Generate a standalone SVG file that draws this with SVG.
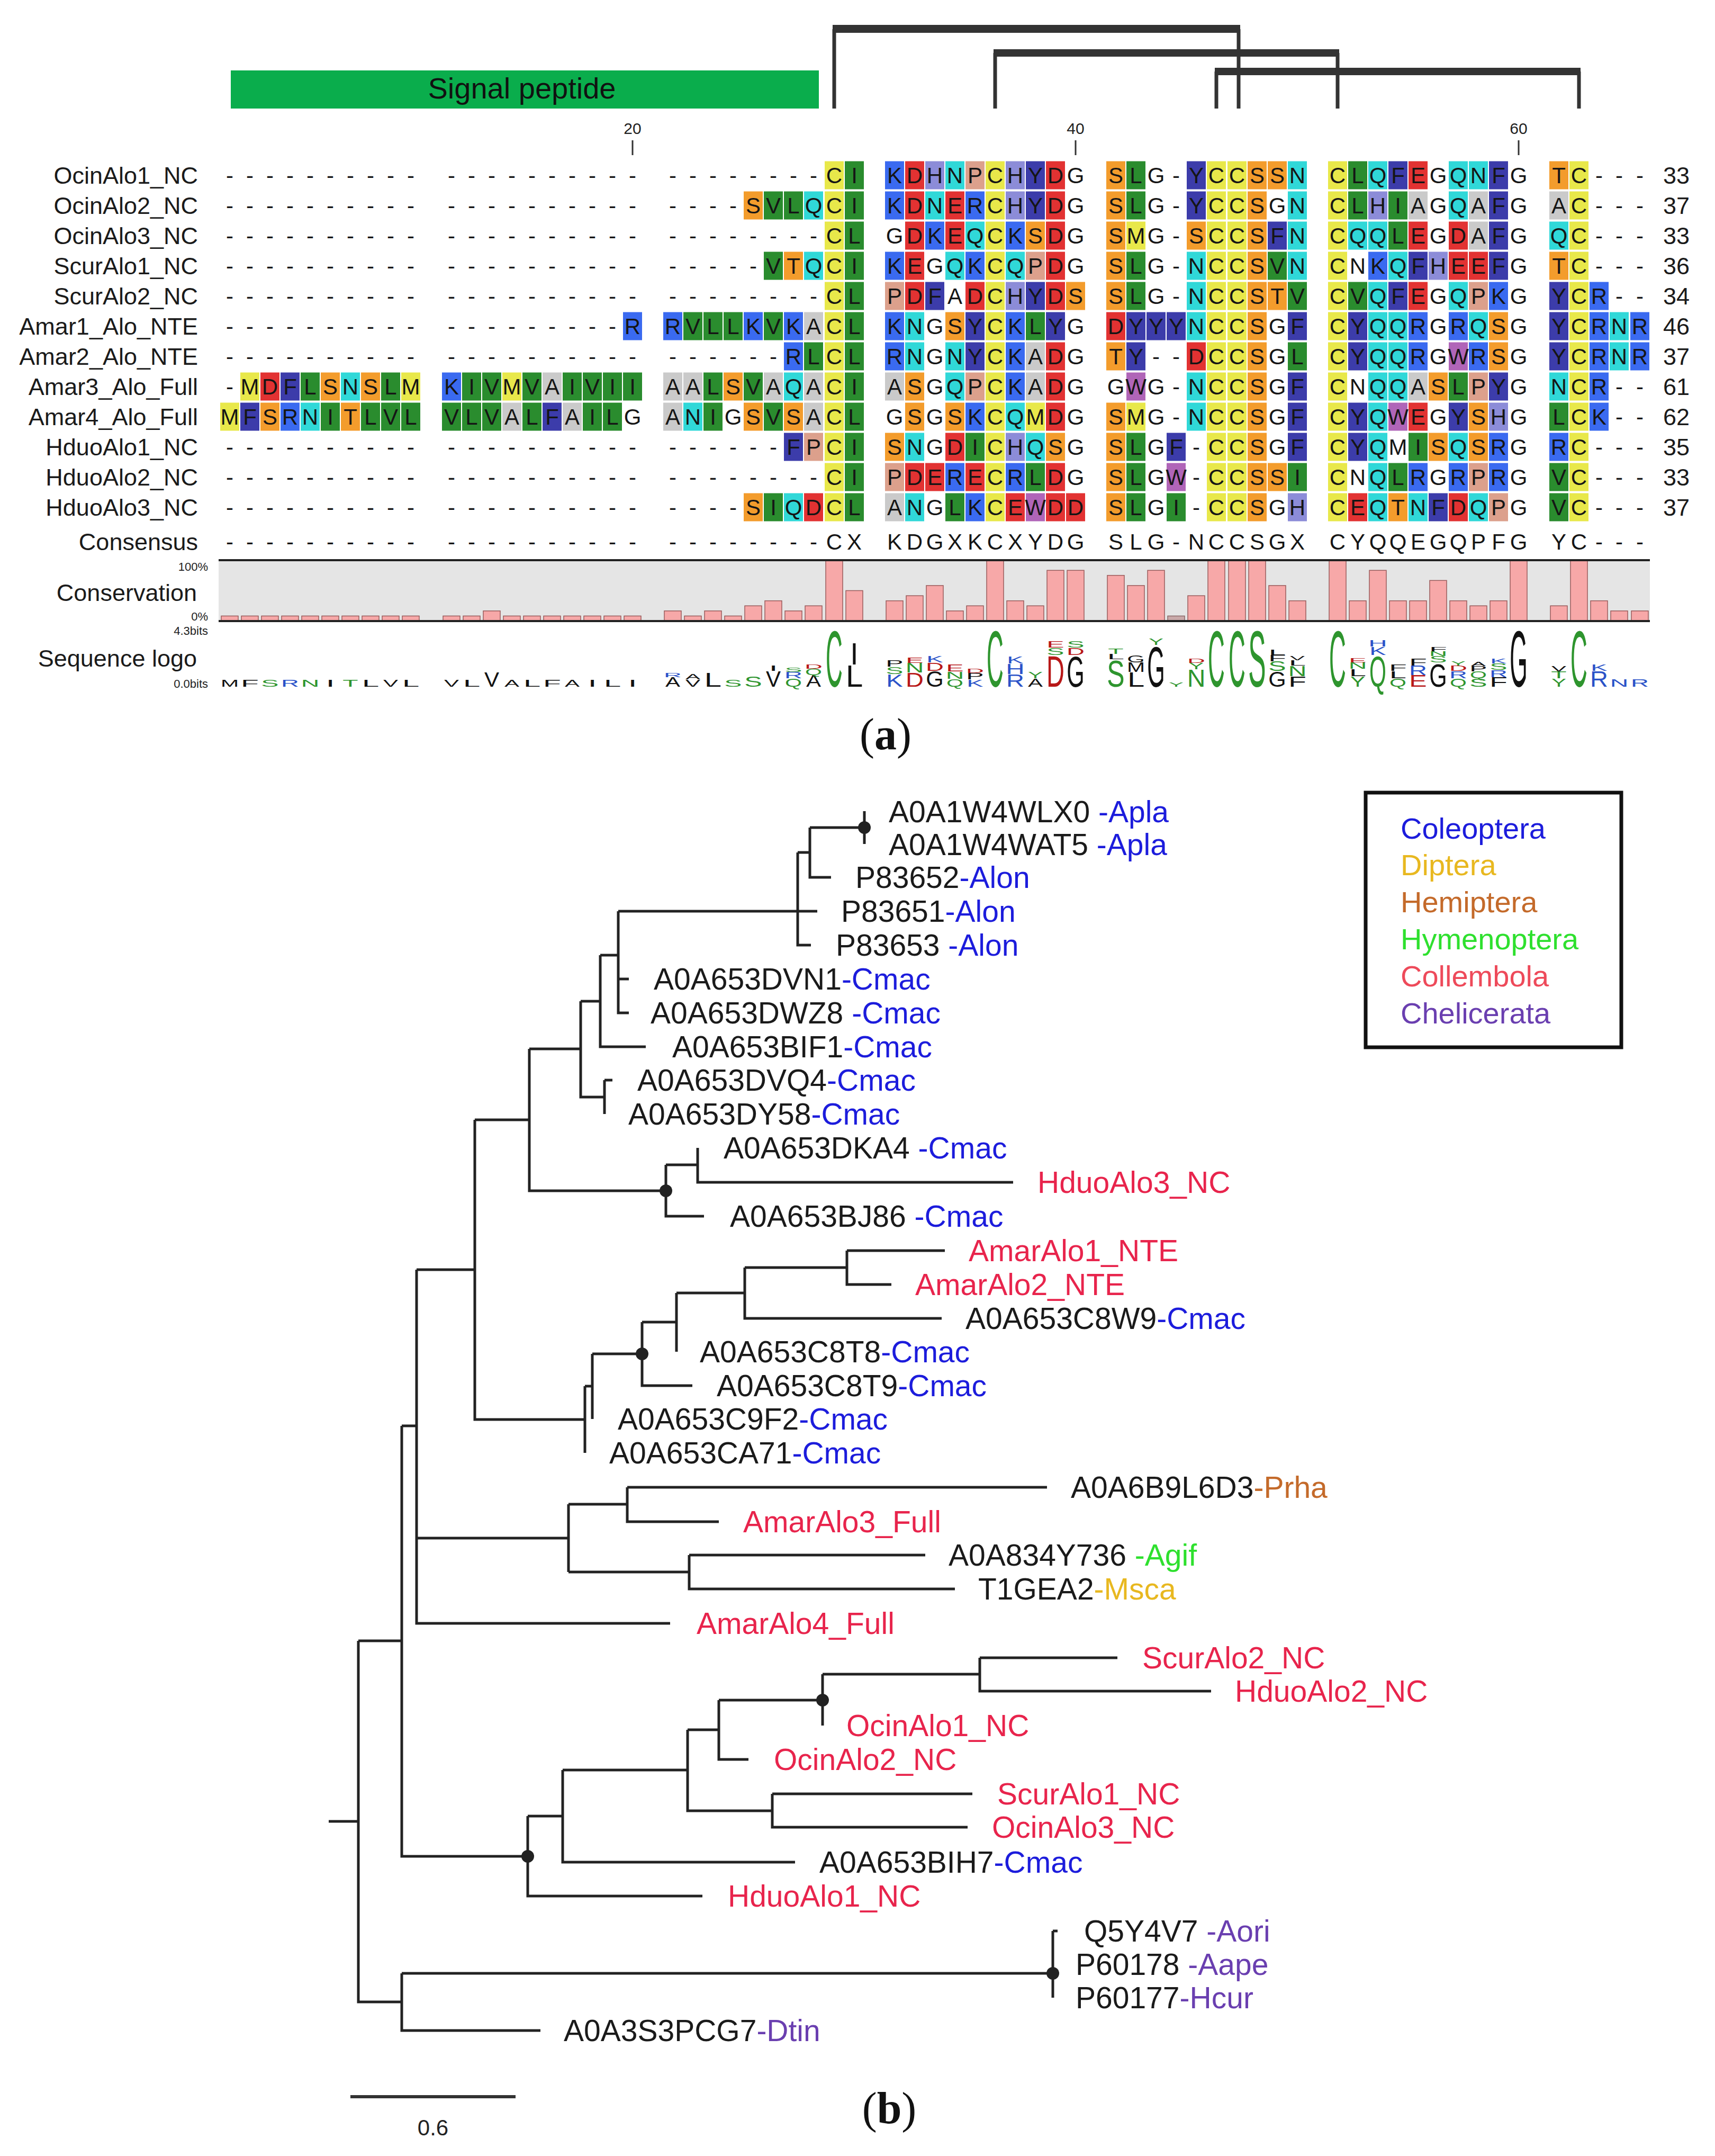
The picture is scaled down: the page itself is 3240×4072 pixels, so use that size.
<svg xmlns="http://www.w3.org/2000/svg" width="3240" height="4072" viewBox="0 0 3240 4072">
<style>
text{font-family:'Liberation Sans',Arial,sans-serif}
.rs{font-size:42px;text-anchor:middle;fill:#151515}
.nm{font-size:45px;text-anchor:end;fill:#1a1a1a}
.nb{font-size:45px;fill:#1a1a1a}
.y{fill:#e8e84a}.g{fill:#2a8c2e}.r{fill:#e23232}.b{fill:#3a6af0}.c{fill:#30d8d8}.o{fill:#f39c2c}.p{fill:#dca08c}.d{fill:#3c3caa}.h{fill:#8c8cd8}.w{fill:#b065b8}.a{fill:#cacaca}
.cb{fill:#f7a8a8;stroke:#9a5c5c;stroke-width:1.5}
.lg{font-size:100px;text-anchor:middle}
.Lg{fill:#2e952e}.Lb{fill:#2a52c8}.Lr{fill:#b81818}.Lk{fill:#111}
.sm{font-size:22px;text-anchor:end;fill:#222}
.tk{font-size:30px;text-anchor:middle;fill:#222}
.bk{fill:#333}
.bv{stroke:#333;stroke-width:7}
.tr{fill:none;stroke:#222;stroke-width:5}
.tl{font-size:57px;fill:#1a1a1a}
.cB{fill:#1c1cdc}.cR{fill:#e8244c}.cO{fill:#c46a2a}.cG{fill:#2ee02e}.cY{fill:#e8b820}.cP{fill:#6a3fb0}
.lgd{font-size:56px}
.pl{font-family:'Liberation Serif','Times New Roman',serif;font-size:84px;text-anchor:middle;fill:#111}
</style>
<defs><rect id="b" width="36" height="53"/></defs>
<rect width="3240" height="4072" fill="#fff"/>

<g id="signal-peptide">
<rect x="436" y="133" width="1111" height="72" fill="#0aad4c"/>
<text x="986" y="186" font-size="56" text-anchor="middle" fill="#111">Signal peptide</text>
</g>
<g id="disulfide-bonds">
<rect class="bk" x="1573" y="47" width="770" height="15"/>
<line class="bv" x1="1576" y1="55" x2="1576" y2="205"/><line class="bv" x1="2340" y1="55" x2="2340" y2="205"/>
<rect class="bk" x="1877" y="93" width="653" height="14"/>
<line class="bv" x1="1880" y1="100" x2="1880" y2="205"/><line class="bv" x1="2527" y1="100" x2="2527" y2="205"/>
<rect class="bk" x="2295" y="128" width="691" height="14"/>
<line class="bv" x1="2298" y1="135" x2="2298" y2="205"/><line class="bv" x1="2983" y1="135" x2="2983" y2="205"/>
</g>
<g id="ruler">
<text class="tk" x="1195" y="253">20</text><text class="tk" x="2032" y="253">40</text><text class="tk" x="2869" y="253">60</text>
<path d="M1195 265V293M2032 265V293M2869 265V293" stroke="#333" stroke-width="3"/>
</g>

<g id="seq-OcinAlo1_NC" transform="translate(0 304.5)">
<use href="#b" x="1558" class="y"/><use href="#b" x="1596" class="g"/><use href="#b" x="1672" class="b"/><use href="#b" x="1710" class="r"/><use href="#b" x="1748" class="h"/><use href="#b" x="1786" class="c"/><use href="#b" x="1824" class="p"/><use href="#b" x="1862" class="y"/><use href="#b" x="1900" class="h"/><use href="#b" x="1938" class="d"/><use href="#b" x="1976" class="r"/><use href="#b" x="2090" class="o"/><use href="#b" x="2128" class="g"/><use href="#b" x="2242" class="d"/><use href="#b" x="2280" class="y"/><use href="#b" x="2319" class="y"/><use href="#b" x="2357" class="o"/><use href="#b" x="2395" class="o"/><use href="#b" x="2433" class="c"/><use href="#b" x="2509" class="y"/><use href="#b" x="2547" class="g"/><use href="#b" x="2585" class="c"/><use href="#b" x="2623" class="d"/><use href="#b" x="2661" class="r"/><use href="#b" x="2737" class="c"/><use href="#b" x="2775" class="c"/><use href="#b" x="2813" class="d"/><use href="#b" x="2927" class="o"/><use href="#b" x="2965" class="y"/>
<text class="nm" x="374" y="42.5">OcinAlo1_NC</text>
<text class="rs" x="434 472 510 548 586 624 662 700 738 776 853 891 929 967 1005 1043 1081 1119 1157 1195 1271 1309 1347 1385 1423 1461 1499 1537 1576 1614 1690 1728 1766 1804 1842 1880 1918 1956 1994 2032 2108 2146 2184 2222 2260 2298 2337 2375 2413 2451 2527 2565 2603 2641 2679 2717 2755 2793 2831 2869 2945 2983 3021 3059 3098" y="41.5">----------------------------CIKDHNPCHYDGSLG-YCCSSNCLQFEGQNFGTC---</text>
<text class="nb" x="3142" y="42.5">33</text>
</g>

<g id="seq-OcinAlo2_NC" transform="translate(0 361.5)">
<use href="#b" x="1405" class="o"/><use href="#b" x="1443" class="g"/><use href="#b" x="1481" class="g"/><use href="#b" x="1519" class="c"/><use href="#b" x="1558" class="y"/><use href="#b" x="1596" class="g"/><use href="#b" x="1672" class="b"/><use href="#b" x="1710" class="r"/><use href="#b" x="1748" class="c"/><use href="#b" x="1786" class="r"/><use href="#b" x="1824" class="b"/><use href="#b" x="1862" class="y"/><use href="#b" x="1900" class="h"/><use href="#b" x="1938" class="d"/><use href="#b" x="1976" class="r"/><use href="#b" x="2090" class="o"/><use href="#b" x="2128" class="g"/><use href="#b" x="2242" class="d"/><use href="#b" x="2280" class="y"/><use href="#b" x="2319" class="y"/><use href="#b" x="2357" class="o"/><use href="#b" x="2433" class="c"/><use href="#b" x="2509" class="y"/><use href="#b" x="2547" class="g"/><use href="#b" x="2585" class="h"/><use href="#b" x="2623" class="g"/><use href="#b" x="2661" class="a"/><use href="#b" x="2737" class="c"/><use href="#b" x="2775" class="a"/><use href="#b" x="2813" class="d"/><use href="#b" x="2927" class="a"/><use href="#b" x="2965" class="y"/>
<text class="nm" x="374" y="42.5">OcinAlo2_NC</text>
<text class="rs" x="434 472 510 548 586 624 662 700 738 776 853 891 929 967 1005 1043 1081 1119 1157 1195 1271 1309 1347 1385 1423 1461 1499 1537 1576 1614 1690 1728 1766 1804 1842 1880 1918 1956 1994 2032 2108 2146 2184 2222 2260 2298 2337 2375 2413 2451 2527 2565 2603 2641 2679 2717 2755 2793 2831 2869 2945 2983 3021 3059 3098" y="41.5">------------------------SVLQCIKDNERCHYDGSLG-YCCSGNCLHIAGQAFGAC---</text>
<text class="nb" x="3142" y="42.5">37</text>
</g>

<g id="seq-OcinAlo3_NC" transform="translate(0 418.5)">
<use href="#b" x="1558" class="y"/><use href="#b" x="1596" class="g"/><use href="#b" x="1710" class="r"/><use href="#b" x="1748" class="b"/><use href="#b" x="1786" class="r"/><use href="#b" x="1824" class="c"/><use href="#b" x="1862" class="y"/><use href="#b" x="1900" class="b"/><use href="#b" x="1938" class="o"/><use href="#b" x="1976" class="r"/><use href="#b" x="2090" class="o"/><use href="#b" x="2128" class="y"/><use href="#b" x="2242" class="o"/><use href="#b" x="2280" class="y"/><use href="#b" x="2319" class="y"/><use href="#b" x="2357" class="o"/><use href="#b" x="2395" class="d"/><use href="#b" x="2433" class="c"/><use href="#b" x="2509" class="y"/><use href="#b" x="2547" class="c"/><use href="#b" x="2585" class="c"/><use href="#b" x="2623" class="g"/><use href="#b" x="2661" class="r"/><use href="#b" x="2737" class="r"/><use href="#b" x="2775" class="a"/><use href="#b" x="2813" class="d"/><use href="#b" x="2927" class="c"/><use href="#b" x="2965" class="y"/>
<text class="nm" x="374" y="42.5">OcinAlo3_NC</text>
<text class="rs" x="434 472 510 548 586 624 662 700 738 776 853 891 929 967 1005 1043 1081 1119 1157 1195 1271 1309 1347 1385 1423 1461 1499 1537 1576 1614 1690 1728 1766 1804 1842 1880 1918 1956 1994 2032 2108 2146 2184 2222 2260 2298 2337 2375 2413 2451 2527 2565 2603 2641 2679 2717 2755 2793 2831 2869 2945 2983 3021 3059 3098" y="41.5">----------------------------CLGDKEQCKSDGSMG-SCCSFNCQQLEGDAFGQC---</text>
<text class="nb" x="3142" y="42.5">33</text>
</g>

<g id="seq-ScurAlo1_NC" transform="translate(0 475.5)">
<use href="#b" x="1443" class="g"/><use href="#b" x="1481" class="o"/><use href="#b" x="1519" class="c"/><use href="#b" x="1558" class="y"/><use href="#b" x="1596" class="g"/><use href="#b" x="1672" class="b"/><use href="#b" x="1710" class="r"/><use href="#b" x="1786" class="c"/><use href="#b" x="1824" class="b"/><use href="#b" x="1862" class="y"/><use href="#b" x="1900" class="c"/><use href="#b" x="1938" class="p"/><use href="#b" x="1976" class="r"/><use href="#b" x="2090" class="o"/><use href="#b" x="2128" class="g"/><use href="#b" x="2242" class="c"/><use href="#b" x="2280" class="y"/><use href="#b" x="2319" class="y"/><use href="#b" x="2357" class="o"/><use href="#b" x="2395" class="g"/><use href="#b" x="2433" class="c"/><use href="#b" x="2509" class="y"/><use href="#b" x="2585" class="b"/><use href="#b" x="2623" class="c"/><use href="#b" x="2661" class="d"/><use href="#b" x="2699" class="h"/><use href="#b" x="2737" class="r"/><use href="#b" x="2775" class="r"/><use href="#b" x="2813" class="d"/><use href="#b" x="2927" class="o"/><use href="#b" x="2965" class="y"/>
<text class="nm" x="374" y="42.5">ScurAlo1_NC</text>
<text class="rs" x="434 472 510 548 586 624 662 700 738 776 853 891 929 967 1005 1043 1081 1119 1157 1195 1271 1309 1347 1385 1423 1461 1499 1537 1576 1614 1690 1728 1766 1804 1842 1880 1918 1956 1994 2032 2108 2146 2184 2222 2260 2298 2337 2375 2413 2451 2527 2565 2603 2641 2679 2717 2755 2793 2831 2869 2945 2983 3021 3059 3098" y="41.5">-------------------------VTQCIKEGQKCQPDGSLG-NCCSVNCNKQFHEEFGTC---</text>
<text class="nb" x="3142" y="42.5">36</text>
</g>

<g id="seq-ScurAlo2_NC" transform="translate(0 532.5)">
<use href="#b" x="1558" class="y"/><use href="#b" x="1596" class="g"/><use href="#b" x="1672" class="p"/><use href="#b" x="1710" class="r"/><use href="#b" x="1748" class="d"/><use href="#b" x="1824" class="r"/><use href="#b" x="1862" class="y"/><use href="#b" x="1900" class="h"/><use href="#b" x="1938" class="d"/><use href="#b" x="1976" class="r"/><use href="#b" x="2014" class="o"/><use href="#b" x="2090" class="o"/><use href="#b" x="2128" class="g"/><use href="#b" x="2242" class="c"/><use href="#b" x="2280" class="y"/><use href="#b" x="2319" class="y"/><use href="#b" x="2357" class="o"/><use href="#b" x="2395" class="o"/><use href="#b" x="2433" class="g"/><use href="#b" x="2509" class="y"/><use href="#b" x="2547" class="g"/><use href="#b" x="2585" class="c"/><use href="#b" x="2623" class="d"/><use href="#b" x="2661" class="r"/><use href="#b" x="2737" class="c"/><use href="#b" x="2775" class="p"/><use href="#b" x="2813" class="b"/><use href="#b" x="2927" class="d"/><use href="#b" x="2965" class="y"/><use href="#b" x="3003" class="b"/>
<text class="nm" x="374" y="42.5">ScurAlo2_NC</text>
<text class="rs" x="434 472 510 548 586 624 662 700 738 776 853 891 929 967 1005 1043 1081 1119 1157 1195 1271 1309 1347 1385 1423 1461 1499 1537 1576 1614 1690 1728 1766 1804 1842 1880 1918 1956 1994 2032 2108 2146 2184 2222 2260 2298 2337 2375 2413 2451 2527 2565 2603 2641 2679 2717 2755 2793 2831 2869 2945 2983 3021 3059 3098" y="41.5">----------------------------CLPDFADCHYDSSLG-NCCSTVCVQFEGQPKGYCR--</text>
<text class="nb" x="3142" y="42.5">34</text>
</g>

<g id="seq-Amar1_Alo_NTE" transform="translate(0 589.5)">
<use href="#b" x="1177" class="b"/><use href="#b" x="1253" class="b"/><use href="#b" x="1291" class="g"/><use href="#b" x="1329" class="g"/><use href="#b" x="1367" class="g"/><use href="#b" x="1405" class="b"/><use href="#b" x="1443" class="g"/><use href="#b" x="1481" class="b"/><use href="#b" x="1519" class="a"/><use href="#b" x="1558" class="y"/><use href="#b" x="1596" class="g"/><use href="#b" x="1672" class="b"/><use href="#b" x="1710" class="c"/><use href="#b" x="1786" class="o"/><use href="#b" x="1824" class="d"/><use href="#b" x="1862" class="y"/><use href="#b" x="1900" class="b"/><use href="#b" x="1938" class="g"/><use href="#b" x="1976" class="d"/><use href="#b" x="2090" class="r"/><use href="#b" x="2128" class="d"/><use href="#b" x="2166" class="d"/><use href="#b" x="2204" class="d"/><use href="#b" x="2242" class="c"/><use href="#b" x="2280" class="y"/><use href="#b" x="2319" class="y"/><use href="#b" x="2357" class="o"/><use href="#b" x="2433" class="d"/><use href="#b" x="2509" class="y"/><use href="#b" x="2547" class="d"/><use href="#b" x="2585" class="c"/><use href="#b" x="2623" class="c"/><use href="#b" x="2661" class="b"/><use href="#b" x="2737" class="b"/><use href="#b" x="2775" class="c"/><use href="#b" x="2813" class="o"/><use href="#b" x="2927" class="d"/><use href="#b" x="2965" class="y"/><use href="#b" x="3003" class="b"/><use href="#b" x="3041" class="c"/><use href="#b" x="3080" class="b"/>
<text class="nm" x="374" y="42.5">Amar1_Alo_NTE</text>
<text class="rs" x="434 472 510 548 586 624 662 700 738 776 853 891 929 967 1005 1043 1081 1119 1157 1195 1271 1309 1347 1385 1423 1461 1499 1537 1576 1614 1690 1728 1766 1804 1842 1880 1918 1956 1994 2032 2108 2146 2184 2222 2260 2298 2337 2375 2413 2451 2527 2565 2603 2641 2679 2717 2755 2793 2831 2869 2945 2983 3021 3059 3098" y="41.5">-------------------RRVLLKVKACLKNGSYCKLYGDYYYNCCSGFCYQQRGRQSGYCRNR</text>
<text class="nb" x="3142" y="42.5">46</text>
</g>

<g id="seq-Amar2_Alo_NTE" transform="translate(0 646.5)">
<use href="#b" x="1481" class="b"/><use href="#b" x="1519" class="g"/><use href="#b" x="1558" class="y"/><use href="#b" x="1596" class="g"/><use href="#b" x="1672" class="b"/><use href="#b" x="1710" class="c"/><use href="#b" x="1786" class="c"/><use href="#b" x="1824" class="d"/><use href="#b" x="1862" class="y"/><use href="#b" x="1900" class="b"/><use href="#b" x="1938" class="a"/><use href="#b" x="1976" class="r"/><use href="#b" x="2090" class="o"/><use href="#b" x="2128" class="d"/><use href="#b" x="2242" class="r"/><use href="#b" x="2280" class="y"/><use href="#b" x="2319" class="y"/><use href="#b" x="2357" class="o"/><use href="#b" x="2433" class="g"/><use href="#b" x="2509" class="y"/><use href="#b" x="2547" class="d"/><use href="#b" x="2585" class="c"/><use href="#b" x="2623" class="c"/><use href="#b" x="2661" class="b"/><use href="#b" x="2737" class="w"/><use href="#b" x="2775" class="b"/><use href="#b" x="2813" class="o"/><use href="#b" x="2927" class="d"/><use href="#b" x="2965" class="y"/><use href="#b" x="3003" class="b"/><use href="#b" x="3041" class="c"/><use href="#b" x="3080" class="b"/>
<text class="nm" x="374" y="42.5">Amar2_Alo_NTE</text>
<text class="rs" x="434 472 510 548 586 624 662 700 738 776 853 891 929 967 1005 1043 1081 1119 1157 1195 1271 1309 1347 1385 1423 1461 1499 1537 1576 1614 1690 1728 1766 1804 1842 1880 1918 1956 1994 2032 2108 2146 2184 2222 2260 2298 2337 2375 2413 2451 2527 2565 2603 2641 2679 2717 2755 2793 2831 2869 2945 2983 3021 3059 3098" y="41.5">--------------------------RLCLRNGNYCKADGTY--DCCSGLCYQQRGWRSGYCRNR</text>
<text class="nb" x="3142" y="42.5">37</text>
</g>

<g id="seq-Amar3_Alo_Full" transform="translate(0 703.5)">
<use href="#b" x="454" class="y"/><use href="#b" x="492" class="r"/><use href="#b" x="530" class="d"/><use href="#b" x="568" class="g"/><use href="#b" x="606" class="o"/><use href="#b" x="644" class="c"/><use href="#b" x="682" class="o"/><use href="#b" x="720" class="g"/><use href="#b" x="758" class="y"/><use href="#b" x="835" class="b"/><use href="#b" x="873" class="g"/><use href="#b" x="911" class="g"/><use href="#b" x="949" class="y"/><use href="#b" x="987" class="g"/><use href="#b" x="1025" class="a"/><use href="#b" x="1063" class="g"/><use href="#b" x="1101" class="g"/><use href="#b" x="1139" class="g"/><use href="#b" x="1177" class="g"/><use href="#b" x="1253" class="a"/><use href="#b" x="1291" class="a"/><use href="#b" x="1329" class="g"/><use href="#b" x="1367" class="o"/><use href="#b" x="1405" class="g"/><use href="#b" x="1443" class="a"/><use href="#b" x="1481" class="c"/><use href="#b" x="1519" class="a"/><use href="#b" x="1558" class="y"/><use href="#b" x="1596" class="g"/><use href="#b" x="1672" class="a"/><use href="#b" x="1710" class="o"/><use href="#b" x="1786" class="c"/><use href="#b" x="1824" class="p"/><use href="#b" x="1862" class="y"/><use href="#b" x="1900" class="b"/><use href="#b" x="1938" class="a"/><use href="#b" x="1976" class="r"/><use href="#b" x="2128" class="w"/><use href="#b" x="2242" class="c"/><use href="#b" x="2280" class="y"/><use href="#b" x="2319" class="y"/><use href="#b" x="2357" class="o"/><use href="#b" x="2433" class="d"/><use href="#b" x="2509" class="y"/><use href="#b" x="2585" class="c"/><use href="#b" x="2623" class="c"/><use href="#b" x="2661" class="a"/><use href="#b" x="2699" class="o"/><use href="#b" x="2737" class="g"/><use href="#b" x="2775" class="p"/><use href="#b" x="2813" class="d"/><use href="#b" x="2927" class="c"/><use href="#b" x="2965" class="y"/><use href="#b" x="3003" class="b"/>
<text class="nm" x="374" y="42.5">Amar3_Alo_Full</text>
<text class="rs" x="434 472 510 548 586 624 662 700 738 776 853 891 929 967 1005 1043 1081 1119 1157 1195 1271 1309 1347 1385 1423 1461 1499 1537 1576 1614 1690 1728 1766 1804 1842 1880 1918 1956 1994 2032 2108 2146 2184 2222 2260 2298 2337 2375 2413 2451 2527 2565 2603 2641 2679 2717 2755 2793 2831 2869 2945 2983 3021 3059 3098" y="41.5">-MDFLSNSLMKIVMVAIVIIAALSVAQACIASGQPCKADGGWG-NCCSGFCNQQASLPYGNCR--</text>
<text class="nb" x="3142" y="42.5">61</text>
</g>

<g id="seq-Amar4_Alo_Full" transform="translate(0 760.5)">
<use href="#b" x="416" class="y"/><use href="#b" x="454" class="d"/><use href="#b" x="492" class="o"/><use href="#b" x="530" class="b"/><use href="#b" x="568" class="c"/><use href="#b" x="606" class="g"/><use href="#b" x="644" class="o"/><use href="#b" x="682" class="g"/><use href="#b" x="720" class="g"/><use href="#b" x="758" class="g"/><use href="#b" x="835" class="g"/><use href="#b" x="873" class="g"/><use href="#b" x="911" class="g"/><use href="#b" x="949" class="a"/><use href="#b" x="987" class="g"/><use href="#b" x="1025" class="d"/><use href="#b" x="1063" class="a"/><use href="#b" x="1101" class="g"/><use href="#b" x="1139" class="g"/><use href="#b" x="1253" class="a"/><use href="#b" x="1291" class="c"/><use href="#b" x="1329" class="g"/><use href="#b" x="1405" class="o"/><use href="#b" x="1443" class="g"/><use href="#b" x="1481" class="o"/><use href="#b" x="1519" class="a"/><use href="#b" x="1558" class="y"/><use href="#b" x="1596" class="g"/><use href="#b" x="1710" class="o"/><use href="#b" x="1786" class="o"/><use href="#b" x="1824" class="b"/><use href="#b" x="1862" class="y"/><use href="#b" x="1900" class="c"/><use href="#b" x="1938" class="y"/><use href="#b" x="1976" class="r"/><use href="#b" x="2090" class="o"/><use href="#b" x="2128" class="y"/><use href="#b" x="2242" class="c"/><use href="#b" x="2280" class="y"/><use href="#b" x="2319" class="y"/><use href="#b" x="2357" class="o"/><use href="#b" x="2433" class="d"/><use href="#b" x="2509" class="y"/><use href="#b" x="2547" class="d"/><use href="#b" x="2585" class="c"/><use href="#b" x="2623" class="w"/><use href="#b" x="2661" class="r"/><use href="#b" x="2737" class="d"/><use href="#b" x="2775" class="o"/><use href="#b" x="2813" class="h"/><use href="#b" x="2927" class="g"/><use href="#b" x="2965" class="y"/><use href="#b" x="3003" class="b"/>
<text class="nm" x="374" y="42.5">Amar4_Alo_Full</text>
<text class="rs" x="434 472 510 548 586 624 662 700 738 776 853 891 929 967 1005 1043 1081 1119 1157 1195 1271 1309 1347 1385 1423 1461 1499 1537 1576 1614 1690 1728 1766 1804 1842 1880 1918 1956 1994 2032 2108 2146 2184 2222 2260 2298 2337 2375 2413 2451 2527 2565 2603 2641 2679 2717 2755 2793 2831 2869 2945 2983 3021 3059 3098" y="41.5">MFSRNITLVLVLVALFAILGANIGSVSACLGSGSKCQMDGSMG-NCCSGFCYQWEGYSHGLCK--</text>
<text class="nb" x="3142" y="42.5">62</text>
</g>

<g id="seq-HduoAlo1_NC" transform="translate(0 817.5)">
<use href="#b" x="1481" class="d"/><use href="#b" x="1519" class="p"/><use href="#b" x="1558" class="y"/><use href="#b" x="1596" class="g"/><use href="#b" x="1672" class="o"/><use href="#b" x="1710" class="c"/><use href="#b" x="1786" class="r"/><use href="#b" x="1824" class="g"/><use href="#b" x="1862" class="y"/><use href="#b" x="1900" class="h"/><use href="#b" x="1938" class="c"/><use href="#b" x="1976" class="o"/><use href="#b" x="2090" class="o"/><use href="#b" x="2128" class="g"/><use href="#b" x="2204" class="d"/><use href="#b" x="2280" class="y"/><use href="#b" x="2319" class="y"/><use href="#b" x="2357" class="o"/><use href="#b" x="2433" class="d"/><use href="#b" x="2509" class="y"/><use href="#b" x="2547" class="d"/><use href="#b" x="2585" class="c"/><use href="#b" x="2661" class="g"/><use href="#b" x="2699" class="o"/><use href="#b" x="2737" class="c"/><use href="#b" x="2775" class="o"/><use href="#b" x="2813" class="b"/><use href="#b" x="2927" class="b"/><use href="#b" x="2965" class="y"/>
<text class="nm" x="374" y="42.5">HduoAlo1_NC</text>
<text class="rs" x="434 472 510 548 586 624 662 700 738 776 853 891 929 967 1005 1043 1081 1119 1157 1195 1271 1309 1347 1385 1423 1461 1499 1537 1576 1614 1690 1728 1766 1804 1842 1880 1918 1956 1994 2032 2108 2146 2184 2222 2260 2298 2337 2375 2413 2451 2527 2565 2603 2641 2679 2717 2755 2793 2831 2869 2945 2983 3021 3059 3098" y="41.5">--------------------------FPCISNGDICHQSGSLGF-CCSGFCYQMISQSRGRC---</text>
<text class="nb" x="3142" y="42.5">35</text>
</g>

<g id="seq-HduoAlo2_NC" transform="translate(0 874.5)">
<use href="#b" x="1558" class="y"/><use href="#b" x="1596" class="g"/><use href="#b" x="1672" class="p"/><use href="#b" x="1710" class="r"/><use href="#b" x="1748" class="r"/><use href="#b" x="1786" class="b"/><use href="#b" x="1824" class="r"/><use href="#b" x="1862" class="y"/><use href="#b" x="1900" class="b"/><use href="#b" x="1938" class="g"/><use href="#b" x="1976" class="r"/><use href="#b" x="2090" class="o"/><use href="#b" x="2128" class="g"/><use href="#b" x="2204" class="w"/><use href="#b" x="2280" class="y"/><use href="#b" x="2319" class="y"/><use href="#b" x="2357" class="o"/><use href="#b" x="2395" class="o"/><use href="#b" x="2433" class="g"/><use href="#b" x="2509" class="y"/><use href="#b" x="2585" class="c"/><use href="#b" x="2623" class="g"/><use href="#b" x="2661" class="b"/><use href="#b" x="2737" class="b"/><use href="#b" x="2775" class="p"/><use href="#b" x="2813" class="b"/><use href="#b" x="2927" class="g"/><use href="#b" x="2965" class="y"/>
<text class="nm" x="374" y="42.5">HduoAlo2_NC</text>
<text class="rs" x="434 472 510 548 586 624 662 700 738 776 853 891 929 967 1005 1043 1081 1119 1157 1195 1271 1309 1347 1385 1423 1461 1499 1537 1576 1614 1690 1728 1766 1804 1842 1880 1918 1956 1994 2032 2108 2146 2184 2222 2260 2298 2337 2375 2413 2451 2527 2565 2603 2641 2679 2717 2755 2793 2831 2869 2945 2983 3021 3059 3098" y="41.5">----------------------------CIPDERECRLDGSLGW-CCSSICNQLRGRPRGVC---</text>
<text class="nb" x="3142" y="42.5">33</text>
</g>

<g id="seq-HduoAlo3_NC" transform="translate(0 931.5)">
<use href="#b" x="1405" class="o"/><use href="#b" x="1443" class="g"/><use href="#b" x="1481" class="c"/><use href="#b" x="1519" class="r"/><use href="#b" x="1558" class="y"/><use href="#b" x="1596" class="g"/><use href="#b" x="1672" class="a"/><use href="#b" x="1710" class="c"/><use href="#b" x="1786" class="g"/><use href="#b" x="1824" class="b"/><use href="#b" x="1862" class="y"/><use href="#b" x="1900" class="r"/><use href="#b" x="1938" class="w"/><use href="#b" x="1976" class="r"/><use href="#b" x="2014" class="r"/><use href="#b" x="2090" class="o"/><use href="#b" x="2128" class="g"/><use href="#b" x="2204" class="g"/><use href="#b" x="2280" class="y"/><use href="#b" x="2319" class="y"/><use href="#b" x="2357" class="o"/><use href="#b" x="2433" class="h"/><use href="#b" x="2509" class="y"/><use href="#b" x="2547" class="r"/><use href="#b" x="2585" class="c"/><use href="#b" x="2623" class="o"/><use href="#b" x="2661" class="c"/><use href="#b" x="2699" class="d"/><use href="#b" x="2737" class="r"/><use href="#b" x="2775" class="c"/><use href="#b" x="2813" class="p"/><use href="#b" x="2927" class="g"/><use href="#b" x="2965" class="y"/>
<text class="nm" x="374" y="42.5">HduoAlo3_NC</text>
<text class="rs" x="434 472 510 548 586 624 662 700 738 776 853 891 929 967 1005 1043 1081 1119 1157 1195 1271 1309 1347 1385 1423 1461 1499 1537 1576 1614 1690 1728 1766 1804 1842 1880 1918 1956 1994 2032 2108 2146 2184 2222 2260 2298 2337 2375 2413 2451 2527 2565 2603 2641 2679 2717 2755 2793 2831 2869 2945 2983 3021 3059 3098" y="41.5">------------------------SIQDCLANGLKCEWDDSLGI-CCSGHCEQTNFDQPGVC---</text>
<text class="nb" x="3142" y="42.5">37</text>
</g>

<g id="consensus">
<text class="nm" x="374" y="1039">Consensus</text>
<text class="rs" x="434 472 510 548 586 624 662 700 738 776 853 891 929 967 1005 1043 1081 1119 1157 1195 1271 1309 1347 1385 1423 1461 1499 1537 1576 1614 1690 1728 1766 1804 1842 1880 1918 1956 1994 2032 2108 2146 2184 2222 2260 2298 2337 2375 2413 2451 2527 2565 2603 2641 2679 2717 2755 2793 2831 2869 2945 2983 3021 3059 3098" y="1038">----------------------------CXKDGXKCXYDGSLG-NCCSGXCYQQEGQPFGYC---</text>
</g>

<g id="conservation">
<rect x="413" y="1058" width="2704" height="115" fill="#e5e5e5"/>
<text class="nm" x="372" y="1135">Conservation</text>
<text class="sm" x="393" y="1078">100%</text>
<text class="sm" x="393" y="1172">0%</text>
<rect class="cb" x="418" y="1163.4" width="32" height="9.6"/><rect class="cb" x="456" y="1163.4" width="32" height="9.6"/><rect class="cb" x="494" y="1163.4" width="32" height="9.6"/><rect class="cb" x="532" y="1163.4" width="32" height="9.6"/><rect class="cb" x="570" y="1163.4" width="32" height="9.6"/><rect class="cb" x="608" y="1163.4" width="32" height="9.6"/><rect class="cb" x="646" y="1163.4" width="32" height="9.6"/><rect class="cb" x="684" y="1163.4" width="32" height="9.6"/><rect class="cb" x="722" y="1163.4" width="32" height="9.6"/><rect class="cb" x="760" y="1163.4" width="32" height="9.6"/>
<rect class="cb" x="837" y="1163.4" width="32" height="9.6"/><rect class="cb" x="875" y="1163.4" width="32" height="9.6"/><rect class="cb" x="913" y="1153.8" width="32" height="19.2"/><rect class="cb" x="951" y="1163.4" width="32" height="9.6"/><rect class="cb" x="989" y="1163.4" width="32" height="9.6"/><rect class="cb" x="1027" y="1163.4" width="32" height="9.6"/><rect class="cb" x="1065" y="1163.4" width="32" height="9.6"/><rect class="cb" x="1103" y="1163.4" width="32" height="9.6"/><rect class="cb" x="1141" y="1163.4" width="32" height="9.6"/><rect class="cb" x="1179" y="1163.4" width="32" height="9.6"/>
<rect class="cb" x="1255" y="1153.8" width="32" height="19.2"/><rect class="cb" x="1293" y="1163.4" width="32" height="9.6"/><rect class="cb" x="1331" y="1153.8" width="32" height="19.2"/><rect class="cb" x="1369" y="1163.4" width="32" height="9.6"/><rect class="cb" x="1407" y="1144.2" width="32" height="28.8"/><rect class="cb" x="1445" y="1134.7" width="32" height="38.3"/><rect class="cb" x="1483" y="1153.8" width="32" height="19.2"/><rect class="cb" x="1521" y="1144.2" width="32" height="28.8"/><rect class="cb" x="1560" y="1058" width="32" height="115"/><rect class="cb" x="1598" y="1115.5" width="32" height="57.5"/>
<rect class="cb" x="1674" y="1134.7" width="32" height="38.3"/><rect class="cb" x="1712" y="1125.1" width="32" height="47.9"/><rect class="cb" x="1750" y="1105.9" width="32" height="67.1"/><rect class="cb" x="1788" y="1153.8" width="32" height="19.2"/><rect class="cb" x="1826" y="1144.2" width="32" height="28.8"/><rect class="cb" x="1864" y="1058" width="32" height="115"/><rect class="cb" x="1902" y="1134.7" width="32" height="38.3"/><rect class="cb" x="1940" y="1144.2" width="32" height="28.8"/><rect class="cb" x="1978" y="1077.2" width="32" height="95.8"/><rect class="cb" x="2016" y="1077.2" width="32" height="95.8"/>
<rect class="cb" x="2092" y="1086.7" width="32" height="86.3"/><rect class="cb" x="2130" y="1105.9" width="32" height="67.1"/><rect class="cb" x="2168" y="1077.2" width="32" height="95.8"/><rect x="2206" y="1163.4" width="32" height="9.6" fill="#c9a9a9" stroke="#8a6a6a" stroke-width="1.5"/><rect class="cb" x="2244" y="1125.1" width="32" height="47.9"/><rect class="cb" x="2282" y="1058" width="32" height="115"/><rect class="cb" x="2321" y="1058" width="32" height="115"/><rect class="cb" x="2359" y="1058" width="32" height="115"/><rect class="cb" x="2397" y="1105.9" width="32" height="67.1"/><rect class="cb" x="2435" y="1134.7" width="32" height="38.3"/>
<rect class="cb" x="2511" y="1058" width="32" height="115"/><rect class="cb" x="2549" y="1134.7" width="32" height="38.3"/><rect class="cb" x="2587" y="1077.2" width="32" height="95.8"/><rect class="cb" x="2625" y="1134.7" width="32" height="38.3"/><rect class="cb" x="2663" y="1134.7" width="32" height="38.3"/><rect class="cb" x="2701" y="1096.3" width="32" height="76.7"/><rect class="cb" x="2739" y="1134.7" width="32" height="38.3"/><rect class="cb" x="2777" y="1144.2" width="32" height="28.8"/><rect class="cb" x="2815" y="1134.7" width="32" height="38.3"/><rect class="cb" x="2853" y="1058" width="32" height="115"/>
<rect class="cb" x="2929" y="1144.2" width="32" height="28.8"/><rect class="cb" x="2967" y="1058" width="32" height="115"/><rect class="cb" x="3005" y="1134.7" width="32" height="38.3"/><rect class="cb" x="3043" y="1153.8" width="32" height="19.2"/><rect class="cb" x="3082" y="1153.8" width="32" height="19.2"/>
<path d="M413 1058H3117M413 1173H3117" stroke="#222" stroke-width="4"/>
</g>

<g id="sequence-logo">
<text class="nm" x="372" y="1259">Sequence logo</text>
<text class="sm" x="393" y="1199">4.3bits</text>
<text class="sm" x="393" y="1299">0.0bits</text>
<text class="lg Lk" transform="translate(434 1297) scale(.41 .18)">M</text>
<text class="lg Lk" transform="translate(472 1297) scale(.55 .18)">F</text>
<text class="lg Lg" transform="translate(510 1297) scale(.5 .18)">S</text>
<text class="lg Lb" transform="translate(548 1297) scale(.47 .18)">R</text>
<text class="lg Lg" transform="translate(586 1297) scale(.48 .18)">N</text>
<text class="lg Lk" transform="translate(624 1297) scale(.6 .18)">I</text>
<text class="lg Lg" transform="translate(662 1297) scale(.48 .18)">T</text>
<text class="lg Lk" transform="translate(700 1297) scale(.58 .18)">L</text>
<text class="lg Lk" transform="translate(738 1297) scale(.42 .18)">V</text>
<text class="lg Lk" transform="translate(776 1297) scale(.58 .18)">L</text>
<text class="lg Lk" transform="translate(853 1297) scale(.42 .18)">V</text>
<text class="lg Lk" transform="translate(891 1297) scale(.58 .18)">L</text>
<text class="lg Lk" transform="translate(929 1297) scale(.42 .39)">V</text>
<text class="lg Lk" transform="translate(967 1297) scale(.42 .18)">A</text>
<text class="lg Lk" transform="translate(1005 1297) scale(.58 .18)">L</text>
<text class="lg Lk" transform="translate(1043 1297) scale(.55 .18)">F</text>
<text class="lg Lk" transform="translate(1081 1297) scale(.42 .18)">A</text>
<text class="lg Lk" transform="translate(1119 1297) scale(.6 .18)">I</text>
<text class="lg Lk" transform="translate(1157 1297) scale(.58 .18)">L</text>
<text class="lg Lk" transform="translate(1195 1297) scale(.6 .18)">I</text>
<text class="lg Lk" transform="translate(1271 1297) scale(.42 .25)">A</text>
<text class="lg Lb" transform="translate(1271 1279) scale(.47 .11)">R</text>
<text class="lg Lk" transform="translate(1309 1297) scale(.42 .19)">V</text>
<text class="lg Lk" transform="translate(1309 1283) scale(.42 .14)">A</text>
<text class="lg Lk" transform="translate(1347 1297) scale(.58 .36)">L</text>
<text class="lg Lg" transform="translate(1385 1297) scale(.5 .18)">S</text>
<text class="lg Lg" transform="translate(1423 1297) scale(.5 .28)">S</text>
<text class="lg Lk" transform="translate(1461 1297) scale(.42 .42)">V</text>
<text class="lg Lk" transform="translate(1461 1267) scale(.6 .14)">I</text>
<text class="lg Lg" transform="translate(1499 1297) scale(.41 .22)">Q</text>
<text class="lg Lb" transform="translate(1499 1281) scale(.47 .17)">R</text>
<text class="lg Lg" transform="translate(1499 1269) scale(.5 .11)">S</text>
<text class="lg Lk" transform="translate(1537 1297) scale(.42 .31)">A</text>
<text class="lg Lg" transform="translate(1537 1275) scale(.41 .17)">Q</text>
<text class="lg Lr" transform="translate(1537 1263) scale(.47 .11)">D</text>
<text class="lg Lg" transform="translate(1576 1297) scale(.44 1.51)">C</text>
<text class="lg Lk" transform="translate(1614 1297) scale(.58 .58)">L</text>
<text class="lg Lk" transform="translate(1614 1255) scale(.55 .58)">I</text>
<text class="lg Lb" transform="translate(1690 1297) scale(.47 .33)">K</text>
<text class="lg Lg" transform="translate(1690 1273) scale(.5 .19)">S</text>
<text class="lg Lk" transform="translate(1690 1259) scale(.5 .17)">P</text>
<text class="lg Lr" transform="translate(1728 1297) scale(.47 .375)">D</text>
<text class="lg Lg" transform="translate(1728 1270) scale(.48 .25)">N</text>
<text class="lg Lr" transform="translate(1728 1252) scale(.5 .14)">E</text>
<text class="lg Lk" transform="translate(1766 1297) scale(.43 .42)">G</text>
<text class="lg Lr" transform="translate(1766 1267) scale(.47 .22)">D</text>
<text class="lg Lb" transform="translate(1766 1251) scale(.47 .17)">K</text>
<text class="lg Lg" transform="translate(1804 1297) scale(.41 .21)">Q</text>
<text class="lg Lg" transform="translate(1804 1282) scale(.48 .19)">N</text>
<text class="lg Lr" transform="translate(1804 1268) scale(.5 .19)">E</text>
<text class="lg Lb" transform="translate(1842 1297) scale(.47 .19)">K</text>
<text class="lg Lk" transform="translate(1842 1283) scale(.5 .17)">P</text>
<text class="lg Lr" transform="translate(1842 1271) scale(.47 .11)">D</text>
<text class="lg Lg" transform="translate(1880 1297) scale(.44 1.51)">C</text>
<text class="lg Lb" transform="translate(1918 1297) scale(.47 .33)">R</text>
<text class="lg Lb" transform="translate(1918 1273) scale(.49 .28)">H</text>
<text class="lg Lb" transform="translate(1918 1253) scale(.47 .19)">K</text>
<text class="lg Lk" transform="translate(1956 1297) scale(.42 .22)">A</text>
<text class="lg Lg" transform="translate(1956 1281) scale(.42 .17)">Y</text>
<text class="lg Lr" transform="translate(1994 1297) scale(.47 .83)">D</text>
<text class="lg Lg" transform="translate(1994 1237) scale(.5 .19)">S</text>
<text class="lg Lr" transform="translate(1994 1223) scale(.5 .17)">E</text>
<text class="lg Lk" transform="translate(2032 1297) scale(.43 .82)">G</text>
<text class="lg Lr" transform="translate(2032 1237) scale(.47 .19)">D</text>
<text class="lg Lg" transform="translate(2032 1223) scale(.5 .17)">S</text>
<text class="lg Lg" transform="translate(2108 1297) scale(.5 .71)">S</text>
<text class="lg Lk" transform="translate(2108 1245) scale(.58 .14)">L</text>
<text class="lg Lg" transform="translate(2108 1235) scale(.48 .14)">T</text>
<text class="lg Lk" transform="translate(2146 1297) scale(.58 .39)">L</text>
<text class="lg Lk" transform="translate(2146 1269) scale(.41 .25)">M</text>
<text class="lg Lk" transform="translate(2146 1251) scale(.43 .19)">G</text>
<text class="lg Lk" transform="translate(2184 1297) scale(.43 1.07)">G</text>
<text class="lg Lg" transform="translate(2184 1218) scale(.42 .17)">Y</text>
<text class="lg Lg" transform="translate(2222 1297) scale(.42 .11)">Y</text>
<text class="lg Lg" transform="translate(2260 1297) scale(.48 .46)">N</text>
<text class="lg Lg" transform="translate(2260 1264) scale(.42 .17)">Y</text>
<text class="lg Lr" transform="translate(2260 1252) scale(.47 .11)">D</text>
<text class="lg Lg" transform="translate(2298 1297) scale(.44 1.51)">C</text>
<text class="lg Lg" transform="translate(2337 1297) scale(.44 1.51)">C</text>
<text class="lg Lg" transform="translate(2375 1297) scale(.5 1.51)">S</text>
<text class="lg Lk" transform="translate(2413 1297) scale(.43 .41)">G</text>
<text class="lg Lg" transform="translate(2413 1267) scale(.5 .25)">S</text>
<text class="lg Lk" transform="translate(2413 1249) scale(.55 .17)">F</text>
<text class="lg Lk" transform="translate(2413 1237) scale(.58 .14)">L</text>
<text class="lg Lk" transform="translate(2451 1297) scale(.55 .28)">F</text>
<text class="lg Lg" transform="translate(2451 1277) scale(.48 .28)">N</text>
<text class="lg Lk" transform="translate(2451 1257) scale(.58 .14)">L</text>
<text class="lg Lk" transform="translate(2451 1247) scale(.42 .11)">V</text>
<text class="lg Lg" transform="translate(2527 1297) scale(.44 1.51)">C</text>
<text class="lg Lg" transform="translate(2565 1297) scale(.42 .28)">Y</text>
<text class="lg Lk" transform="translate(2565 1277) scale(.58 .19)">L</text>
<text class="lg Lg" transform="translate(2565 1263) scale(.48 .17)">N</text>
<text class="lg Lr" transform="translate(2565 1251) scale(.5 .1)">E</text>
<text class="lg Lg" transform="translate(2603 1297) scale(.41 .81)">Q</text>
<text class="lg Lb" transform="translate(2603 1237) scale(.47 .22)">K</text>
<text class="lg Lb" transform="translate(2603 1221) scale(.49 .17)">H</text>
<text class="lg Lg" transform="translate(2641 1297) scale(.41 .22)">Q</text>
<text class="lg Lk" transform="translate(2641 1281) scale(.58 .19)">L</text>
<text class="lg Lk" transform="translate(2641 1267) scale(.55 .17)">F</text>
<text class="lg Lr" transform="translate(2679 1297) scale(.5 .31)">E</text>
<text class="lg Lb" transform="translate(2679 1275) scale(.47 .25)">R</text>
<text class="lg Lk" transform="translate(2679 1257) scale(.55 .18)">F</text>
<text class="lg Lk" transform="translate(2717 1297) scale(.43 .62)">G</text>
<text class="lg Lg" transform="translate(2717 1251) scale(.5 .17)">S</text>
<text class="lg Lg" transform="translate(2717 1239) scale(.48 .125)">N</text>
<text class="lg Lk" transform="translate(2717 1230) scale(.55 .1)">F</text>
<text class="lg Lg" transform="translate(2755 1297) scale(.41 .22)">Q</text>
<text class="lg Lb" transform="translate(2755 1281) scale(.47 .19)">R</text>
<text class="lg Lr" transform="translate(2755 1267) scale(.47 .14)">D</text>
<text class="lg Lg" transform="translate(2755 1257) scale(.42 .1)">Y</text>
<text class="lg Lg" transform="translate(2793 1297) scale(.5 .22)">S</text>
<text class="lg Lg" transform="translate(2793 1281) scale(.41 .18)">Q</text>
<text class="lg Lk" transform="translate(2793 1268) scale(.5 .14)">P</text>
<text class="lg Lk" transform="translate(2793 1258) scale(.42 .11)">A</text>
<text class="lg Lk" transform="translate(2831 1297) scale(.55 .25)">F</text>
<text class="lg Lb" transform="translate(2831 1279) scale(.47 .19)">R</text>
<text class="lg Lg" transform="translate(2831 1265) scale(.5 .17)">S</text>
<text class="lg Lb" transform="translate(2831 1253) scale(.47 .125)">K</text>
<text class="lg Lk" transform="translate(2869 1297) scale(.43 1.51)">G</text>
<text class="lg Lg" transform="translate(2945 1297) scale(.42 .22)">Y</text>
<text class="lg Lg" transform="translate(2945 1281) scale(.48 .18)">T</text>
<text class="lg Lk" transform="translate(2945 1268) scale(.42 .15)">V</text>
<text class="lg Lg" transform="translate(2983 1297) scale(.44 1.51)">C</text>
<text class="lg Lb" transform="translate(3021 1297) scale(.47 .42)">R</text>
<text class="lg Lb" transform="translate(3021 1267) scale(.47 .17)">K</text>
<text class="lg Lb" transform="translate(3059 1297) scale(.48 .21)">N</text>
<text class="lg Lb" transform="translate(3098 1297) scale(.47 .21)">R</text>
</g>

<text id="label-a" class="pl" x="1673" y="1415">(<tspan font-weight="bold">a</tspan>)</text>

<g id="tree-connectors">
<path class="tr" d="M1633 1532V1594M1530 1563H1633M1530 1563V1657H1570M1507 1610H1530M1507 1610V1785H1532M1507 1721H1544M1168 1721H1507M1168 1721V1913H1188M1168 1849H1188M1134 1804H1168M1134 1804V1977H1220M1142 2040H1157M1142 2040V2104M1097 1891H1134M1097 1891V2072H1142M1318 2168V2233H1914M1258 2200H1318M1258 2200V2297H1330M1000 1981H1097M1000 1981V2249H1258M897 2115H1000M897 2115V2681H1105M1105 2618V2744M1105 2618H1119M1119 2557V2680M1119 2557H1213M1213 2497V2617H1308M1213 2497H1278M1278 2442V2553M1278 2442H1407M1407 2394V2490H1779M1407 2394H1600M1600 2362V2426H1684M1600 2362H1785M787 2398H897M787 2398V3066H1266M787 2905H1074M1074 2841V2969M1074 2841H1185M1185 2809V2874H1358M1185 2809H1978M1074 2969H1302M1302 2937V3001H1804M1302 2937H1748M759 2693H787M759 2693V3506H997M997 3430V3581H1327M997 3430H1063M1063 3343V3517H1502M1063 3343H1299M1299 3267V3420H1459M1299 3267H1358M1358 3211V3323H1414M1358 3211H1554M1554 3162V3259M1554 3162H1851M1851 3131V3194H2288M1851 3131H2111M1459 3388V3451H1828M1459 3388H1837M677 3099H759M677 3099V3781H759M621 3440H677M759 3727V3835H1021M759 3727H1989M1989 3647V3773M1989 3647H1998"/>
<g fill="#222">
<circle cx="1633" cy="1563" r="12"/><circle cx="1258" cy="2249" r="12"/><circle cx="1213" cy="2557" r="12"/><circle cx="1554" cy="3211" r="12"/><circle cx="997" cy="3506" r="12"/><circle cx="1989" cy="3727" r="12"/>
</g>
</g>

<g id="tree-leaves">
<g id="leaf-A0A1W4WLX0"><text class="tl" x="1679" y="1553">A0A1W4WLX0 <tspan class="cB">-Apla</tspan></text></g>
<g id="leaf-A0A1W4WAT5"><text class="tl" x="1679" y="1615">A0A1W4WAT5 <tspan class="cB">-Apla</tspan></text></g>
<g id="leaf-P83652"><text class="tl" x="1616" y="1677">P83652<tspan class="cB">-Alon</tspan></text></g>
<g id="leaf-P83651"><text class="tl" x="1589" y="1741">P83651<tspan class="cB">-Alon</tspan></text></g>
<g id="leaf-P83653"><text class="tl" x="1579" y="1805">P83653 <tspan class="cB">-Alon</tspan></text></g>
<g id="leaf-A0A653DVN1"><text class="tl" x="1235" y="1869">A0A653DVN1<tspan class="cB">-Cmac</tspan></text></g>
<g id="leaf-A0A653DWZ8"><text class="tl" x="1229" y="1933">A0A653DWZ8 <tspan class="cB">-Cmac</tspan></text></g>
<g id="leaf-A0A653BIF1"><text class="tl" x="1270" y="1997">A0A653BIF1<tspan class="cB">-Cmac</tspan></text></g>
<g id="leaf-A0A653DVQ4"><text class="tl" x="1204" y="2060">A0A653DVQ4<tspan class="cB">-Cmac</tspan></text></g>
<g id="leaf-A0A653DY58"><text class="tl" x="1187" y="2124">A0A653DY58<tspan class="cB">-Cmac</tspan></text></g>
<g id="leaf-A0A653DKA4"><text class="tl" x="1367" y="2188">A0A653DKA4 <tspan class="cB">-Cmac</tspan></text></g>
<g id="leaf-HduoAlo3_NC"><text class="tl cR" x="1960" y="2253">HduoAlo3_NC</text></g>
<g id="leaf-A0A653BJ86"><text class="tl" x="1379" y="2317">A0A653BJ86 <tspan class="cB">-Cmac</tspan></text></g>
<g id="leaf-AmarAlo1_NTE"><text class="tl cR" x="1830" y="2382">AmarAlo1_NTE</text></g>
<g id="leaf-AmarAlo2_NTE"><text class="tl cR" x="1729" y="2446">AmarAlo2_NTE</text></g>
<g id="leaf-A0A653C8W9"><text class="tl" x="1824" y="2510">A0A653C8W9<tspan class="cB">-Cmac</tspan></text></g>
<g id="leaf-A0A653C8T8"><text class="tl" x="1322" y="2573">A0A653C8T8<tspan class="cB">-Cmac</tspan></text></g>
<g id="leaf-A0A653C8T9"><text class="tl" x="1354" y="2637">A0A653C8T9<tspan class="cB">-Cmac</tspan></text></g>
<g id="leaf-A0A653C9F2"><text class="tl" x="1167" y="2700">A0A653C9F2<tspan class="cB">-Cmac</tspan></text></g>
<g id="leaf-A0A653CA71"><text class="tl" x="1151" y="2764">A0A653CA71<tspan class="cB">-Cmac</tspan></text></g>
<g id="leaf-A0A6B9L6D3"><text class="tl" x="2023" y="2829">A0A6B9L6D3<tspan class="cO">-Prha</tspan></text></g>
<g id="leaf-AmarAlo3_Full"><text class="tl cR" x="1404" y="2894">AmarAlo3_Full</text></g>
<g id="leaf-A0A834Y736"><text class="tl" x="1792" y="2957">A0A834Y736 <tspan class="cG">-Agif</tspan></text></g>
<g id="leaf-T1GEA2"><text class="tl" x="1848" y="3021">T1GEA2<tspan class="cY">-Msca</tspan></text></g>
<g id="leaf-AmarAlo4_Full"><text class="tl cR" x="1316" y="3086">AmarAlo4_Full</text></g>
<g id="leaf-ScurAlo2_NC"><text class="tl cR" x="2158" y="3151">ScurAlo2_NC</text></g>
<g id="leaf-HduoAlo2_NC"><text class="tl cR" x="2333" y="3214">HduoAlo2_NC</text></g>
<g id="leaf-OcinAlo1_NC"><text class="tl cR" x="1599" y="3279">OcinAlo1_NC</text></g>
<g id="leaf-OcinAlo2_NC"><text class="tl cR" x="1462" y="3343">OcinAlo2_NC</text></g>
<g id="leaf-ScurAlo1_NC"><text class="tl cR" x="1884" y="3408">ScurAlo1_NC</text></g>
<g id="leaf-OcinAlo3_NC"><text class="tl cR" x="1874" y="3471">OcinAlo3_NC</text></g>
<g id="leaf-A0A653BIH7"><text class="tl" x="1548" y="3537">A0A653BIH7<tspan class="cB">-Cmac</tspan></text></g>
<g id="leaf-HduoAlo1_NC"><text class="tl cR" x="1375" y="3601">HduoAlo1_NC</text></g>
<g id="leaf-Q5Y4V7"><text class="tl" x="2048" y="3667">Q5Y4V7 <tspan class="cP">-Aori</tspan></text></g>
<g id="leaf-P60178"><text class="tl" x="2032" y="3730">P60178 <tspan class="cP">-Aape</tspan></text></g>
<g id="leaf-P60177"><text class="tl" x="2032" y="3793">P60177<tspan class="cP">-Hcur</tspan></text></g>
<g id="leaf-A0A3S3PCG7"><text class="tl" x="1065" y="3855">A0A3S3PCG7<tspan class="cP">-Dtin</tspan></text></g>
</g>

<g id="legend">
<rect x="2580" y="1497" width="483" height="481" fill="#fff" stroke="#111" stroke-width="7"/>
<text class="lgd cB" x="2646" y="1584">Coleoptera</text>
<text class="lgd cY" x="2646" y="1653">Diptera</text>
<text class="lgd cO" x="2646" y="1723">Hemiptera</text>
<text class="lgd cG" x="2646" y="1793">Hymenoptera</text>
<text class="lgd" fill="#ee4a5a" x="2646" y="1863">Collembola</text>
<text class="lgd cP" x="2646" y="1933">Chelicerata</text>
</g>

<g id="scale-bar">
<line x1="662" y1="3960" x2="974" y2="3960" stroke="#333" stroke-width="6"/>
<text x="818" y="4033" font-size="42" text-anchor="middle" fill="#222">0.6</text>
</g>
<text id="label-b" class="pl" x="1680" y="4010">(<tspan font-weight="bold">b</tspan>)</text>
</svg>
